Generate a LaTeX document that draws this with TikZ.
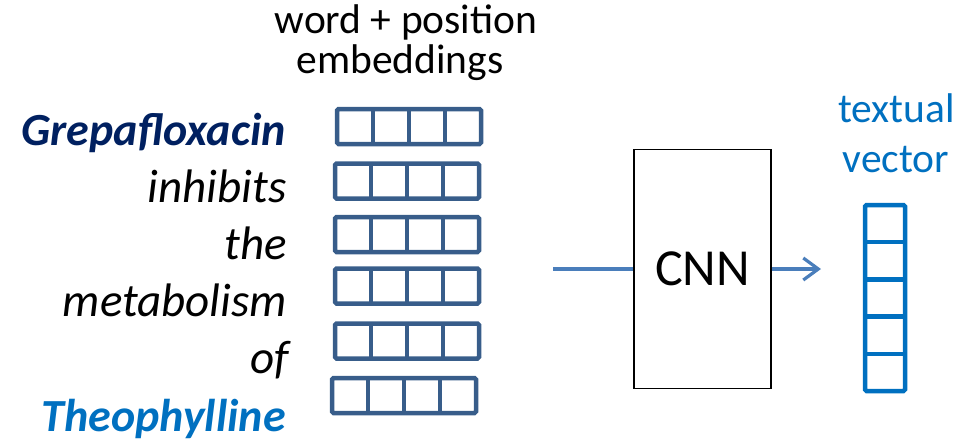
\documentclass[tikz,border=0pt]{standalone}
\usepackage{fontspec}
\setmainfont{Carlito}
\usetikzlibrary{arrows.meta}
\definecolor{drugnavy}{HTML}{002060}
\definecolor{vecblue}{HTML}{0070C0}
\definecolor{embblue}{HTML}{385D8A}
\definecolor{arrblue}{HTML}{4A7EBB}

\begin{document}
\begin{tikzpicture}[x=1pt,y=-1pt,
  word/.style={anchor=base east,inner sep=0pt,font=\fontsize{47}{56}\selectfont\itshape},
  label/.style={anchor=base,inner sep=0pt,font=\fontsize{41.5}{50}\selectfont},
  embrow/.style={draw=embblue,line width=4.5pt,rounded corners=1.5pt,outer sep=0pt,
    minimum width=144pt,minimum height=35pt,inner sep=0pt},
  embline/.style={draw=embblue,line width=4.5pt},
  vecline/.style={draw=vecblue,line width=4.5pt},
  flow/.style={draw=arrblue,line width=3.2pt}]
\useasboundingbox (0,0) rectangle (959,440);

% Sentence, one word per row
\node[word,text=drugnavy,font=\fontsize{46}{56}\selectfont\bfseries\itshape] (w1) at (286,145) {Grepafloxacin};
\node[word] (w2) at (287,202) {inhibits};
\node[word] (w3) at (287,259) {the};
\node[word] (w4) at (287,316) {metabolism};
\node[word] (w5) at (289,373) {of};
\node[word,text=vecblue,font=\fontsize{46}{56}\selectfont\bfseries\itshape] (w6) at (286,431) {Theophylline};

% Embedding header
\node[label] (hdr1) at (406,33) {word + position};
\node[label] (hdr2) at (400,73) {embeddings};

% Embedding rows, 4 cells each
\foreach \i/\x/\y in {1/409/126.5,2/407/181,3/407/234.5,4/407/286,5/407/341,6/404/395.5} {
    \node[embrow] (emb\i) at (\x,\y) {};
    \foreach \k in {1,2,3}
        \draw[embline] ([xshift=\k*36pt]emb\i.north west) -- ([xshift=\k*36pt]emb\i.south west);
}

% CNN block
\node[draw,line width=1.5pt,minimum width=137pt,minimum height=239pt,inner sep=0pt,
  font=\fontsize{52}{60}\selectfont] (cnn) at (702.5,269) {CNN};
\coordinate (in) at (553,269);
\coordinate (out) at (821,269);
\draw[flow] (in) -- (cnn.west);
\draw[flow,-{Straight Barb[length=15pt,width=22pt]}] (cnn.east) -- (out);

% Textual vector
\node[label,text=vecblue] (tv1) at (896.5,122) {textual};
\node[label,text=vecblue] (tv2) at (896,172) {vector};
\node[draw=vecblue,line width=4.5pt,rounded corners=1.5pt,outer sep=0pt,inner sep=0pt,
  minimum width=40pt,minimum height=186pt] (vec) at (885,298) {};
\foreach \k in {1,2,3,4}
    \draw[vecline] ([yshift=-\k*37.2pt]vec.north west) -- ([yshift=-\k*37.2pt]vec.north east);
\end{tikzpicture}
\end{document}
